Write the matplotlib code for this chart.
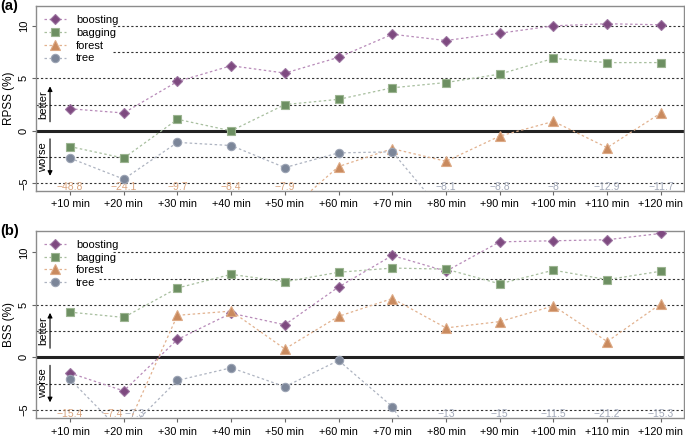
import matplotlib
matplotlib.use('Agg')
import matplotlib.pyplot as plt

plt.rcParams['font.family'] = ['Liberation Sans', 'DejaVu Sans']

leads = ['+10 min', '+20 min', '+30 min', '+40 min', '+50 min', '+60 min',
         '+70 min', '+80 min', '+90 min', '+100 min', '+110 min', '+120 min']

# panel (a): RPSS (%)
rpss_boosting = [2.1, 1.7, 4.7, 6.2, 5.5, 7.0, 9.2, 8.6, 9.3, 10.0, 10.2, 10.1]
rpss_bagging = [-1.5, -2.6, 1.1, 0.0, 2.5, 3.0, 4.1, 4.6, 5.4, 6.9, 6.5, 6.5]
rpss_forest = [-48.8, -24.1, -9.7, -8.4, -7.9, -3.4, -1.7, -2.9, -0.5, 0.9, -1.6, 1.7]
rpss_tree = [-2.6, -4.6, -1.1, -1.4, -3.5, -2.1, -2.0, -8.1, -8.8, -8.0, -12.9, -11.7]

# panel (b): BSS (%)
bss_boosting = [-1.5, -3.2, 1.7, 4.2, 3.1, 6.7, 9.7, 8.2, 11.0, 11.1, 11.2, 11.8]
bss_bagging = [4.3, 3.8, 6.6, 7.9, 7.2, 8.1, 8.5, 8.4, 7.0, 8.3, 7.4, 8.2]
bss_forest = [-15.4, -7.4, 4.0, 4.4, 0.8, 3.9, 5.6, 2.8, 3.4, 4.9, 1.5, 5.1]
bss_tree = [-2.1, -7.3, -2.2, -1.0, -2.8, -0.3, -4.7, -13.0, -15.0, -11.5, -21.2, -15.3]

models = ['boosting', 'bagging', 'forest', 'tree']
markers = {'boosting': 'D', 'bagging': 's', 'forest': '^', 'tree': 'o'}
msizes = {'boosting': 5.2, 'bagging': 5.2, 'forest': 6.5, 'tree': 6}
pt_col = {'boosting': '#7E4A80', 'bagging': '#6D8F62', 'forest': '#C98A5E', 'tree': '#7C8699'}
edge_col = {'boosting': '#9C74A0', 'bagging': '#9DB592', 'forest': '#DDAA86', 'tree': '#9CA4B4'}
ln_col = {'boosting': '#B88BB9', 'bagging': '#A8BF9F', 'forest': '#E2B28F', 'tree': '#AEB4C1'}
lab_col = {'forest': '#D9A47E', 'tree': '#A2A9B9'}

x = list(range(1, 13))

fig = plt.figure(figsize=(6.85, 4.37), dpi=100)
ax_a = fig.add_axes([36/685, 1-191/437, 648/685, 185/437])
ax_b = fig.add_axes([36/685, 1-418.3/437, 648/685, 187.6/437])


def panel(ax, data, ylab, ylim, seven_start, letter):
    ax.set_xlim(0.367, 12.43)
    ax.set_ylim(*ylim)
    for h in [-5, -2.5, 2.5, 5]:
        ax.axhline(h, color='#333333', lw=0.8, ls=(0, (2, 2)), zorder=1)
    ax.axhline(10, xmin=0.119, color='#333333', lw=0.8, ls=(0, (2, 2)), zorder=1)
    ax.axhline(7.5, xmin=seven_start, color='#333333', lw=0.8, ls=(0, (2, 2)), zorder=1)
    ax.axhline(0, color='#222222', lw=2.2, zorder=2)

    for m in models:
        ax.plot(x, data[m], color=ln_col[m], lw=0.9, ls=(0, (2, 2)), zorder=3)
        ax.plot(x, data[m], ls='none', marker=markers[m], ms=msizes[m],
                mfc=pt_col[m], mec=edge_col[m], mew=0.8, zorder=4, label=m)

    # off-scale values written at the bottom
    low = ylim[0]
    for i in range(12):
        vals = [(m, data[m][i]) for m in ['forest', 'tree'] if data[m][i] < low]
        for k, (m, v) in enumerate(vals):
            s = ('%g' % v).replace('-', '\u2212')
            if len(vals) == 2:
                ha = 'right' if k == 0 else 'left'
                xx = x[i] - 0.01 if k == 0 else x[i] + 0.02
            else:
                ha, xx = 'center', x[i]
            ax.text(xx, -5.38, s, color=lab_col[m], fontsize=7.5, ha=ha, va='center', zorder=2)

    # legend with markers and dotted lines
    handles = []
    for m in models:
        h, = ax.plot([], [], color=ln_col[m], lw=0.9, ls=(0, (2, 2)), marker=markers[m],
                     ms=msizes[m], mfc=pt_col[m], mec=edge_col[m], mew=0.8)
        handles.append(h)
    ax.legend(handles, models, loc='upper left', bbox_to_anchor=(-0.003, 1.005),
              frameon=False, fontsize=8, handlelength=2.0, handletextpad=0.9,
              labelspacing=0.25, borderpad=0.4)

    # better / worse arrows
    ax.annotate('', xy=(0.628, 4.5), xytext=(0.628, 0.6),
                arrowprops=dict(arrowstyle='-|>', lw=0.8, color='black', mutation_scale=7))
    ax.annotate('', xy=(0.628, -4.55), xytext=(0.628, -0.5),
                arrowprops=dict(arrowstyle='-|>', lw=0.8, color='black', mutation_scale=7))
    ax.text(0.497, 2.5, 'better', rotation=90, fontsize=8, ha='center', va='center')
    ax.text(0.497, -2.5, 'worse', rotation=90, fontsize=8, ha='center', va='center')

    ax.set_xticks(x)
    ax.set_xticklabels(leads)
    ax.set_yticks([-5, 0, 5, 10])
    ax.tick_params(axis='x', length=3, width=0.8, color='#666666', labelsize=7.8, pad=3)
    ax.tick_params(axis='y', length=3, width=0.8, color='#666666', labelsize=8,
                   labelrotation=90, pad=2)
    for lbl in ax.get_yticklabels():
        lbl.set_va('center')
    for sp in ax.spines.values():
        sp.set_color('#8C8C8C')
        sp.set_linewidth(1.0)
    ax.set_ylabel(ylab, fontsize=8.5)
    ax.yaxis.set_label_coords(-0.033, 0.5)
    ax.text(-36/648, 1.0, letter, transform=ax.transAxes, fontsize=10.5,
            fontweight='bold', ha='left', va='center')


panel(ax_a, {'boosting': rpss_boosting, 'bagging': rpss_bagging,
             'forest': rpss_forest, 'tree': rpss_tree},
      'RPSS (%)', (-5.73, 11.89), 0.119, '(a)')
panel(ax_b, {'boosting': bss_boosting, 'bagging': bss_bagging,
             'forest': bss_forest, 'tree': bss_tree},
      'BSS (%)', (-5.81, 12.06), 0.097, '(b)')

fig.savefig('out.png', dpi=100)
